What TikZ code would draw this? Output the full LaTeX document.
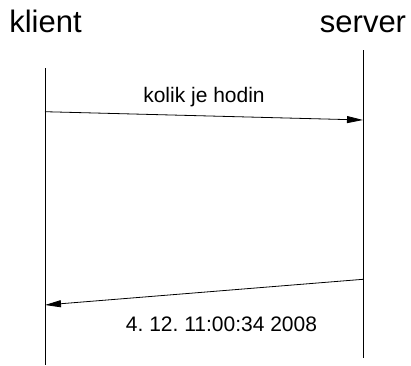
\documentclass[tikz,border=0pt]{standalone}
\usepackage{fontspec}
\setmainfont{Liberation Sans}
\frenchspacing
\usetikzlibrary{arrows.meta,positioning}

\begin{document}
\begin{tikzpicture}[x=1pt, y=-1pt,
    party/.style={font=\fontsize{31}{36}\selectfont, inner sep=0pt, anchor=base},
    msg/.style={font=\fontsize{21}{25}\selectfont, inner sep=0pt, anchor=base},
    lifeline/.style={line width=0.8pt},
    call/.style={-{Triangle[length=16pt, width=7pt]}, line width=0.8pt},
    ]
    \useasboundingbox (0,0) rectangle (411,365);

    % the two parties
    \node[party] (klient) at (45.5,32) {klient};
    \node[party] (server) at (363,32) {server};

    \coordinate (klient top) at (45,68);
    \coordinate (klient bottom) at (45,365);
    \coordinate (server top) at (363,50);
    \coordinate (server bottom) at (363,358);
    \draw[lifeline] (klient top) -- (klient bottom);
    \draw[lifeline] (server top) -- (server bottom);

    % question and answer
    \coordinate (ask from) at (45,111.7);
    \coordinate (ask to) at (363,120);
    \coordinate (reply from) at (363,279.3);
    \coordinate (reply to) at (45,305);
    \draw[call] (ask from) -- (ask to);
    \draw[call] (reply from) -- (reply to);

    \node[msg] (ask) at (204,102) {kolik je hodin};
    \node[msg] (reply) at (221.5,331.7) {4. 12. 11:00:34 2008};
\end{tikzpicture}
\end{document}
